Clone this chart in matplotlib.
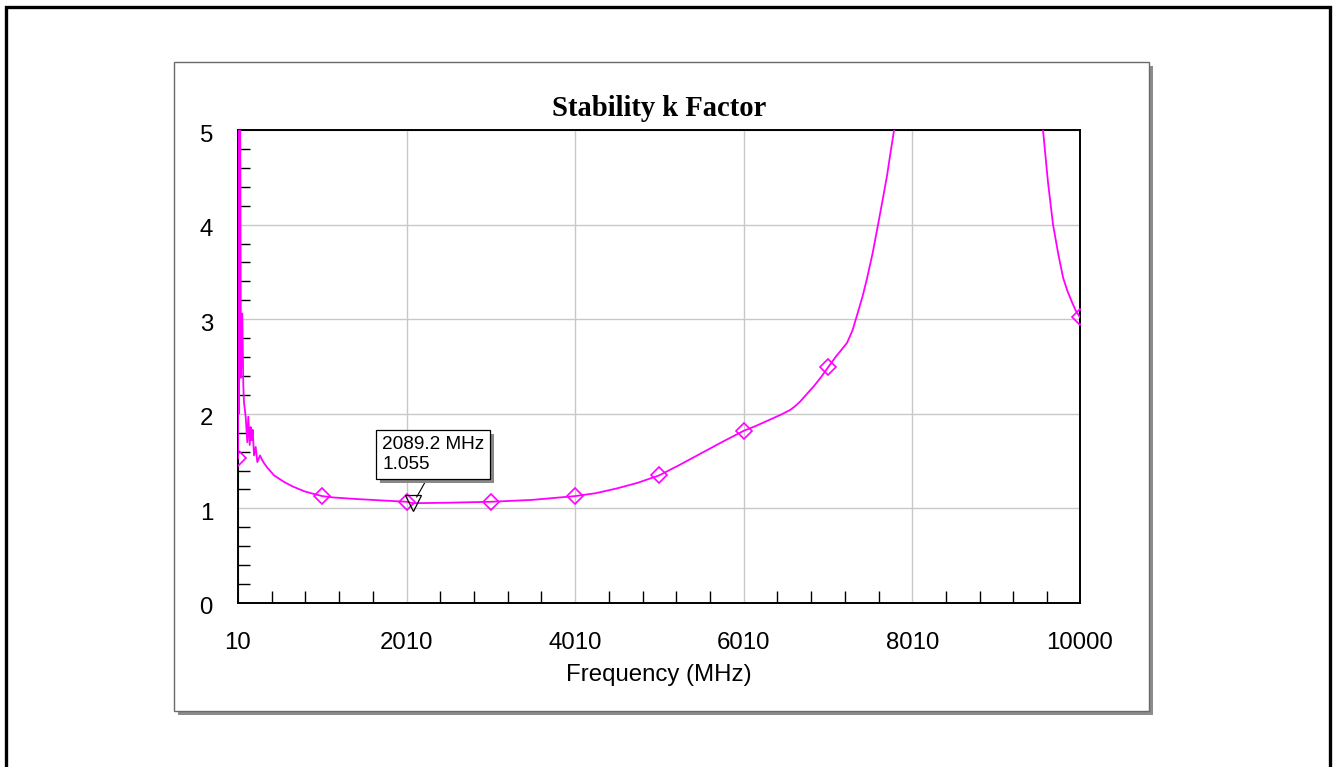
import numpy as np
import matplotlib
matplotlib.use("Agg")
import matplotlib.pyplot as plt
from matplotlib.patches import Rectangle
import matplotlib.patheffects as pe
import matplotlib.transforms as mtransforms

# ---------------- data ----------------
freq_mhz = [10, 15, 20, 25, 30, 35, 45, 61, 73, 81, 101, 120, 132, 149, 161, 173,
            184, 200, 220, 239, 271, 298, 318, 358, 437, 556, 663, 800, 900,
            1010, 1150, 1400, 1700, 2010, 2089.2, 2500, 3010, 3500, 4010, 4250,
            4500, 4750, 5010, 5250, 5500, 5750, 6010, 6150, 6300, 6450, 6560,
            6620, 6680, 6760, 6850, 6930, 7010, 7100, 7236, 7300, 7354, 7420,
            7473, 7540, 7604, 7660, 7711, 7750, 7794, 7850, 7950, 8100, 8500,
            9000, 9300, 9450, 9561, 9620, 9680, 9740, 9799, 9850, 9905, 9950,
            10000]
k_factor = [1.53, 12.0, 2.0, 8.0, 2.4, 5.5, 2.38, 3.06, 2.30, 2.12, 1.97, 1.70,
            1.97, 1.67, 1.86, 1.72, 1.83, 1.56, 1.65, 1.49, 1.56, 1.51, 1.48,
            1.43, 1.35, 1.28, 1.23, 1.18, 1.155, 1.13, 1.115, 1.10, 1.085, 1.07,
            1.055, 1.06, 1.07, 1.09, 1.13, 1.16, 1.21, 1.27, 1.35, 1.46, 1.58,
            1.70, 1.82, 1.87, 1.93, 1.99, 2.04, 2.08, 2.13, 2.21, 2.30, 2.39,
            2.49, 2.60, 2.75, 2.88, 3.04, 3.24, 3.43, 3.70, 4.00, 4.27, 4.52,
            4.75, 5.00, 5.60, 7.0, 10.0, 20.0, 25.0, 12.0, 7.0, 5.00, 4.45,
            4.00, 3.70, 3.44, 3.30, 3.18, 3.09, 3.02]

marker_freq = [10, 1010, 2010, 3010, 4010, 5010, 6010, 7010, 10000]
marker_k = [1.53, 1.13, 1.07, 1.07, 1.13, 1.35, 1.82, 2.49, 3.02]

cursor_freq = 2089.2
cursor_k = 1.055
cursor_text = "2089.2 MHz\n1.055"

x_major = [10, 2010, 4010, 6010, 8010, 10000]
x_tick_labels = ["10", "2010", "4010", "6010", "8010", "10000"]
y_major = [0, 1, 2, 3, 4, 5]
y_tick_labels = ["0", "1", "2", "3", "4", "5"]

title = "Stability k Factor"
xlabel = "Frequency (MHz)"

# ---------------- figure ----------------
W, H = 1335, 767
fig = plt.figure(figsize=(W / 100, H / 100), dpi=100)
fig.patch.set_facecolor("white")


def fx(px):
    return px / W


def fy(py):
    return (H - py) / H


# outer border (bottom edge lies beyond the image)
fig.add_artist(Rectangle((fx(6), fy(790)), fx(1330) - fx(6), fy(7) - fy(790),
                         transform=fig.transFigure, fill=False, ec="black",
                         lw=2.4, zorder=-20))
# panel shadow
fig.add_artist(Rectangle((fx(178), fy(715)), fx(1153) - fx(178), fy(66) - fy(715),
                         transform=fig.transFigure, fc="#8c8c8c", ec="none",
                         zorder=-12))
# panel
fig.add_artist(Rectangle((fx(174), fy(711)), fx(1149) - fx(174), fy(62) - fy(711),
                         transform=fig.transFigure, fc="white", ec="#6a6a6a",
                         lw=1.0, zorder=-11))

ax = fig.add_axes([fx(238), fy(603), fx(1080) - fx(238), fy(130) - fy(603)])
ax.set_facecolor("white")
ax.set_xlim(10, 10000)
ax.set_ylim(0, 5)

sans = ["Liberation Sans", "DejaVu Sans"]
serif = ["Liberation Serif", "DejaVu Serif"]

ax.set_xticks(x_major)
ax.set_xticklabels(x_tick_labels, fontsize=17.3, family=sans)
ax.set_yticks(y_major)
ax.set_yticklabels(y_tick_labels, fontsize=17.3, family=sans)

x_minor = [v for v in np.arange(410, 10000, 400) if v not in x_major]
y_minor = [v for v in np.round(np.arange(0.2, 5.0, 0.2), 1) if v not in y_major]
ax.set_xticks(x_minor, minor=True)
ax.set_yticks(y_minor, minor=True)

ax.tick_params(which="major", length=0, color="black")
ax.tick_params(axis="x", which="major", pad=21)
ax.tick_params(axis="y", which="major", pad=18)
ax.tick_params(which="minor", direction="in", length=8.5, width=1.0,
               color="black")

# y labels sit a few pixels below their grid lines in the reference
shift = mtransforms.ScaledTranslation(0, -3 / 100, fig.dpi_scale_trans)
for lab in ax.get_yticklabels():
    lab.set_transform(lab.get_transform() + shift)

ax.grid(True, which="major", color="#c8c8c8", lw=1.0)
ax.set_axisbelow(True)
for s in ax.spines.values():
    s.set_color("black")
    s.set_linewidth(1.4)

ax.plot(freq_mhz, k_factor, color="#ff00ff", lw=1.3, zorder=3)
ax.plot(marker_freq, marker_k, ls="none", marker="D", ms=8, mfc="none",
        mec="#ff00ff", mew=1.2, zorder=4)

ax.plot([cursor_freq], [cursor_k], ls="none", marker="v", ms=11, mfc="none",
        mec="black", mew=0.9, zorder=5)

ann = ax.annotate(cursor_text, xy=(cursor_freq, cursor_k), xycoords="data",
                  xytext=(382, H - 436), textcoords="figure pixels",
                  ha="left", va="top", fontsize=13.7, family=sans,
                  linespacing=1.25,
                  bbox=dict(boxstyle="square,pad=0.3", fc="white", ec="black",
                            lw=0.9),
                  arrowprops=dict(arrowstyle="-", color="black", lw=0.8,
                                  relpos=(0.47, 0.0), shrinkA=0, shrinkB=5),
                  zorder=6)
ann.get_bbox_patch().set_path_effects([
    pe.withSimplePatchShadow(offset=(3, -3), shadow_rgbFace="#888888", alpha=1.0)
])

fig.text(0.5 * (fx(238) + fx(1080)), fy(109), title, ha="center", va="center",
         fontsize=20.6, fontweight="bold", family=serif)
fig.text(0.5 * (fx(238) + fx(1080)), fy(675), xlabel, ha="center",
         va="center", fontsize=17.3, family=sans)

fig.savefig("out.png", dpi=100, facecolor="white")
